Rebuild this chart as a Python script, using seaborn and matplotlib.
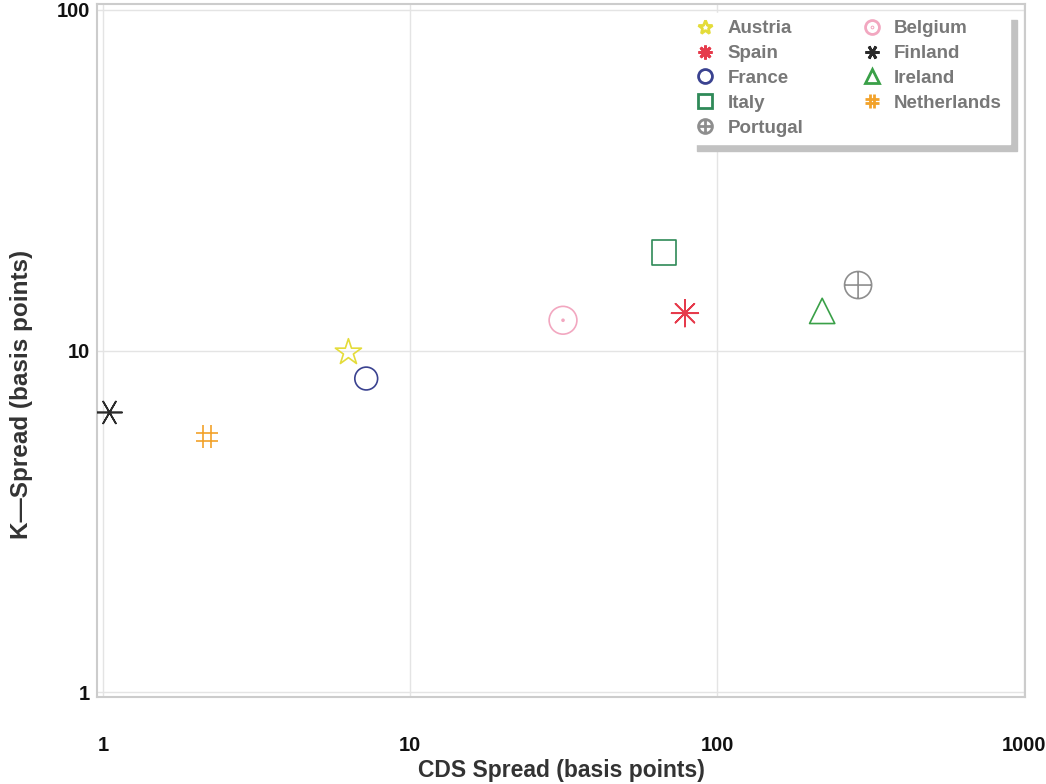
import matplotlib
matplotlib.use("Agg")
import matplotlib.pyplot as plt
from matplotlib.path import Path
from matplotlib.lines import Line2D
import pandas as pd
import seaborn as sns

# Sovereign CDS spread vs. K-spread, basis points
countries = ["Austria", "Spain", "France", "Italy", "Portugal",
             "Belgium", "Finland", "Ireland", "Netherlands"]
cds_spread = [6.3, 78.6, 7.2, 67.2, 288.0, 31.5, 1.05, 220.0, 2.18]
k_spread = [9.9, 12.9, 8.3, 19.4, 15.6, 12.3, 6.6, 13.1, 5.6]

x_ticks = [1, 10, 100, 1000]
x_tick_labels = ["1", "10", "100", "1000"]
y_ticks = [1, 10, 100]
y_tick_labels = ["1", "10", "100"]

df = pd.DataFrame({"country": countries, "cds": cds_spread, "k": k_spread})


def hash_path():
    d = 0.35
    verts = [(-d, -1), (-d, 1), (d, -1), (d, 1),
             (-1, -d), (1, -d), (-1, d), (1, d)]
    codes = [Path.MOVETO, Path.LINETO] * 4
    return Path(verts, codes)


def circle_dot_path():
    return Path.make_compound_path(Path.unit_circle(), Path.circle((0, 0), 0.07))


def circle_plus_path():
    cross = Path([(-1, 0), (1, 0), (0, -1), (0, 1)],
                 [Path.MOVETO, Path.LINETO, Path.MOVETO, Path.LINETO])
    return Path.make_compound_path(Path.unit_circle(), cross)


style = {
    "Austria":     dict(marker="*", color="#e4dc3a", s=390),
    "Spain":       dict(marker=(8, 2, 0), color="#e63b4c", s=370),
    "France":      dict(marker="o", color="#3a4290", s=270),
    "Italy":       dict(marker="s", color="#2f8a58", s=320),
    "Portugal":    dict(marker=circle_plus_path(), color="#8e8e8e", s=380),
    "Belgium":     dict(marker=circle_dot_path(), color="#f2a7c0", s=400),
    "Finland":     dict(marker=(6, 2, 90), color="#2a2a2a", s=330),
    "Ireland":     dict(marker="^", color="#3aa048", s=330),
    "Netherlands": dict(marker=hash_path(), color="#f2a22a", s=270),
}

sns.set_theme(style="white")
plt.rcParams["font.family"] = ["Liberation Sans", "DejaVu Sans"]

fig = plt.figure(figsize=(10.46, 7.84), dpi=100)
ax = fig.add_axes([97 / 1046, 1 - 697 / 784, 928 / 1046, 693 / 784])

for name in countries:
    st = style[name]
    sub = df[df["country"] == name]
    sns.scatterplot(data=sub, x="cds", y="k", marker=st["marker"], s=st["s"],
                    color=st["color"], ax=ax, legend=False, zorder=3)
    coll = ax.collections[-1]
    coll.set_facecolor("none")
    coll.set_edgecolor(st["color"])
    coll.set_linewidth(1.2)

ax.set_xscale("log")
ax.set_yscale("log")
ax.set_xlim(0.956, 1007)
ax.set_ylim(0.967, 104)
ax.set_xticks(x_ticks, x_tick_labels)
ax.set_yticks(y_ticks, y_tick_labels)
ax.minorticks_off()
ax.tick_params(axis="both", length=0, labelsize=14.5, labelcolor="#111111")
ax.tick_params(axis="x", pad=28)
ax.tick_params(axis="y", pad=5)
for lab in ax.get_xticklabels() + ax.get_yticklabels():
    lab.set_fontweight("bold")

ax.grid(True, which="major", color="#e4e4e4", linewidth=1.0)
ax.set_axisbelow(True)
for sp in ax.spines.values():
    sp.set_color("#cccccc")
    sp.set_linewidth(1.5)

ax.set_xlabel("CDS Spread (basis points)", fontsize=16.5, fontweight="bold",
              color="#333333")
ax.set_ylabel("K\u2014Spread (basis points)", fontsize=17.5, fontweight="bold",
              color="#333333")
ax.xaxis.set_label_coords(0.5, -0.089)
ax.yaxis.set_label_coords(-0.069, 0.436)

handles = []
for name in countries:
    st = style[name]
    handles.append(Line2D([], [], linestyle="none", marker=st["marker"],
                          markersize=10, markerfacecolor="none",
                          markeredgecolor=st["color"], markeredgewidth=2.0))

leg = ax.legend(handles, countries, ncol=2, loc="upper left",
                bbox_to_anchor=(0.629, 1.001), frameon=True, fancybox=False,
                shadow={"ox": 5, "oy": -5, "color": "#c2c2c2", "alpha": 1},
                edgecolor="white", facecolor="white", framealpha=1,
                handlelength=0.8, handletextpad=0.8,
                labelspacing=0.41, columnspacing=3.24, borderpad=0.4,
                prop={"weight": "bold", "size": 13.5})
for t in leg.get_texts():
    t.set_color("#787878")

fig.savefig("out.png", dpi=100)
